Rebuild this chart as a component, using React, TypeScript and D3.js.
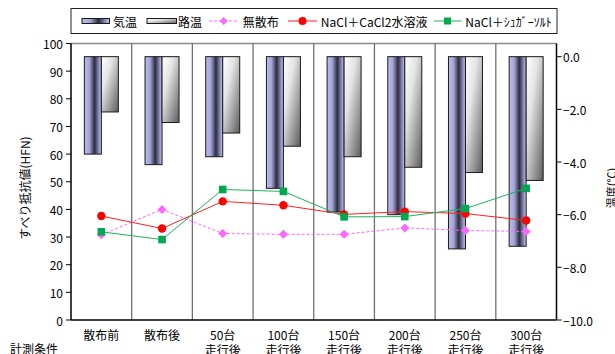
import React from "react";
import * as d3 from "d3";

// Measurement conditions (x categories); "\n" splits into two lines
const categories: string[] = [
  "散布前",
  "散布後",
  "50台\n走行後",
  "100台\n走行後",
  "150台\n走行後",
  "200台\n走行後",
  "250台\n走行後",
  "300台\n走行後",
];

// Temperatures (℃), right axis, drawn as bars hanging from 0
const airTemp: number[] = [-3.7, -4.1, -3.8, -5.0, -5.9, -6.0, -7.3, -7.2];
const roadTemp: number[] = [-2.1, -2.5, -2.9, -3.4, -3.8, -4.2, -4.4, -4.7];

// Skid resistance (HFN), left axis
const noSpread: number[] = [30.8, 40.0, 31.3, 31.0, 31.0, 33.3, 32.4, 32.0];
const naclCacl2: number[] = [37.6, 33.1, 42.9, 41.5, 38.2, 39.2, 38.5, 36.0];
const naclSugar: number[] = [31.9, 29.1, 47.2, 46.5, 37.3, 37.4, 40.3, 47.6];

const leftTicks: number[] = [0, 10, 20, 30, 40, 50, 60, 70, 80, 90, 100];
const rightTicks: number[] = [0, -2, -4, -6, -8, -10];

const FONT = "'Noto Sans CJK JP', 'Noto Sans', sans-serif";

const W = 615;
const H = 354;
const plot = { left: 71, right: 556.5, top: 43.5, bottom: 320 };

export default function App() {
  const x = d3
    .scaleBand<string>()
    .domain(categories)
    .range([plot.left, plot.right])
    .paddingInner(0)
    .paddingOuter(0);
  const yL = d3.scaleLinear().domain([0, 100]).range([plot.bottom, plot.top]);
  const yR = d3.scaleLinear().domain([-10, 0.5]).range([plot.bottom, plot.top]);
  const fmtR = d3.format(".1f");

  const barW = 17;
  const cx = (c: string) => (x(c) as number) + x.bandwidth() / 2;

  const lineGen = (vals: number[]) =>
    d3
      .line<number>()
      .x((_, i) => cx(categories[i]))
      .y((v) => yL(v))(vals) as string;

  const diamond = (px: number, py: number, r: number) =>
    `M${px},${py - r}L${px + r},${py}L${px},${py + r}L${px - r},${py}Z`;

  const boundaries = d3.range(1, categories.length).map((i) => plot.left + i * x.bandwidth());

  const legendY = 21;

  return (
    <svg
      width={W}
      height={H}
      style={{ position: "absolute", left: 0, top: 0, background: "#fff" }}
      fontFamily={FONT}
    >
      <defs>
        <linearGradient id="gAir" x1="0" y1="0" x2="1" y2="0">
          <stop offset="0" stopColor="#bcbcee" />
          <stop offset="0.3" stopColor="#a4a4d6" />
          <stop offset="0.6" stopColor="#2c2c3a" />
          <stop offset="0.82" stopColor="#8080b2" />
          <stop offset="1" stopColor="#c6c6f6" />
        </linearGradient>
        <linearGradient id="gRoad" x1="0" y1="0" x2="1" y2="1">
          <stop offset="0" stopColor="#ffffff" />
          <stop offset="0.35" stopColor="#e4e4e4" />
          <stop offset="1" stopColor="#5c5c5c" />
        </linearGradient>
      </defs>

      {/* plot frame and category separators */}
      <line x1={plot.left} x2={plot.right} y1={plot.top} y2={plot.top} stroke="#8a8a8a" strokeWidth={1.5} />
      {boundaries.map((bx, i) => (
        <line key={i} x1={bx} x2={bx} y1={plot.top} y2={plot.bottom} stroke="#707070" strokeWidth={1.3} />
      ))}

      {/* temperature bars */}
      {categories.map((c, i) => (
        <g key={c}>
          <rect
            x={cx(c) - barW}
            y={yR(0)}
            width={barW}
            height={yR(airTemp[i]) - yR(0)}
            fill="url(#gAir)"
            stroke="#1a1a1a"
            strokeWidth={1}
          />
          <rect
            x={cx(c)}
            y={yR(0)}
            width={barW}
            height={yR(roadTemp[i]) - yR(0)}
            fill="url(#gRoad)"
            stroke="#1a1a1a"
            strokeWidth={1}
          />
        </g>
      ))}

      {/* resistance lines */}
      <path d={lineGen(noSpread)} fill="none" stroke="#ff66ff" strokeWidth={1} strokeDasharray="3,2" />
      {noSpread.map((v, i) => (
        <path key={i} d={diamond(cx(categories[i]), yL(v), 4.5)} fill="#ff66ff" />
      ))}
      <path d={lineGen(naclCacl2)} fill="none" stroke="#ff2020" strokeWidth={1} />
      {naclCacl2.map((v, i) => (
        <circle key={i} cx={cx(categories[i])} cy={yL(v)} r={4.2} fill="#ff0000" />
      ))}
      <path d={lineGen(naclSugar)} fill="none" stroke="#20b060" strokeWidth={1} />
      {naclSugar.map((v, i) => (
        <rect key={i} x={cx(categories[i]) - 3.8} y={yL(v) - 3.8} width={7.6} height={7.6} fill="#00a850" />
      ))}

      {/* axes */}
      <line x1={plot.left} x2={plot.left} y1={plot.top} y2={plot.bottom} stroke="#000" strokeWidth={1.5} />
      <line x1={plot.right} x2={plot.right} y1={plot.top} y2={plot.bottom} stroke="#000" strokeWidth={1.5} />
      <line x1={plot.left} x2={plot.right} y1={plot.bottom} y2={plot.bottom} stroke="#000" strokeWidth={1.5} />

      {leftTicks.map((t) => (
        <g key={t}>
          <line x1={plot.left - 5} x2={plot.left} y1={yL(t)} y2={yL(t)} stroke="#000" />
          <text x={63} y={yL(t)} textAnchor="end" dominantBaseline="central" fontSize={12} fill="#000">
            {t}
          </text>
        </g>
      ))}
      {rightTicks.map((t) => (
        <g key={t}>
          <line x1={plot.right} x2={plot.right + 5} y1={yR(t)} y2={yR(t)} stroke="#000" />
          <text x={563} y={yR(t)} dominantBaseline="central" fontSize={12} fill="#000">
            {fmtR(t)}
          </text>
        </g>
      ))}

      {/* category labels */}
      {categories.map((c) => {
        const lines = c.split("\n");
        return (
          <text key={c} x={cx(c)} textAnchor="middle" fontSize={12} fill="#000">
            {lines.map((l, j) => (
              <tspan key={j} x={cx(c)} y={334 + j * 15} dominantBaseline="central">
                {l}
              </tspan>
            ))}
          </text>
        );
      })}
      <text x={10} y={348} dominantBaseline="central" fontSize={12} fill="#000">
        計測条件
      </text>

      {/* axis titles */}
      <text
        transform={`translate(24,188) rotate(-90)`}
        textAnchor="middle"
        dominantBaseline="central"
        fontSize={12}
        fill="#000"
      >
        すべり抵抗値(HFN)
      </text>
      <text
        transform={`translate(611,188) rotate(-90)`}
        textAnchor="middle"
        dominantBaseline="central"
        fontSize={11}
        fill="#000"
      >
        温度(℃)
      </text>

      {/* legend */}
      <rect x={71} y={8.5} width={486} height={25} fill="#fff" stroke="#222" strokeWidth={1} />
      <rect x={82} y={legendY - 2.5} width={27.5} height={5} fill="url(#gAir)" stroke="#1a1a1a" strokeWidth={1} />
      <text x={113} y={legendY} dominantBaseline="central" fontSize={12}>気温</text>
      <rect x={147} y={legendY - 2.5} width={29.5} height={5} fill="url(#gRoad)" stroke="#1a1a1a" strokeWidth={1} />
      <text x={178} y={legendY} dominantBaseline="central" fontSize={12}>路温</text>
      <line x1={209} x2={238.5} y1={legendY} y2={legendY} stroke="#ff66ff" strokeDasharray="3,2" />
      <path d={diamond(223.7, legendY, 4)} fill="#ff66ff" />
      <text x={242.7} y={legendY} dominantBaseline="central" fontSize={12}>無散布</text>
      <line x1={288} x2={317} y1={legendY} y2={legendY} stroke="#ff2020" />
      <circle cx={302.5} cy={legendY} r={4} fill="#ff0000" />
      <text x={320.8} y={legendY} dominantBaseline="central" fontSize={12}>NaCl＋CaCl2水溶液</text>
      <line x1={434} x2={461.5} y1={legendY} y2={legendY} stroke="#20b060" />
      <rect x={444} y={legendY - 3.5} width={7} height={7} fill="#00a850" />
      <text x={465.3} y={legendY} dominantBaseline="central" fontSize={12}>NaCl＋ｼｭｶﾞｰｿﾙﾄ</text>
    </svg>
  );
}
